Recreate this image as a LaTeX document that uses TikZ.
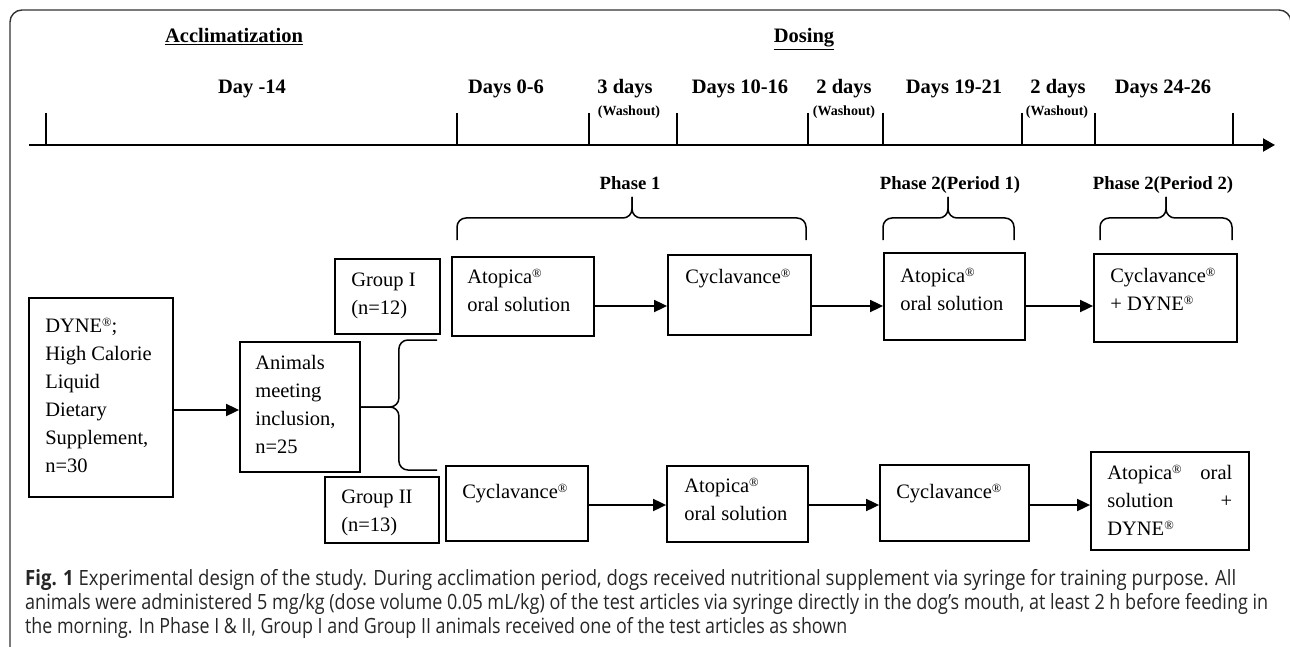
\documentclass[tikz,border=0pt]{standalone}
\usepackage{graphicx}
\usepackage{fontspec}
\setmainfont{Liberation Serif}
\newfontfamily\capfont{Open Sans}
\usetikzlibrary{positioning,arrows.meta}

\newcommand{\reg}{\raisebox{5.6pt}{\fontsize{12.5}{12.5}\selectfont ®}}
\newcommand{\fst}{\rule{0pt}{20pt}}

\begin{document}
\begin{tikzpicture}[x=1pt, y=-1pt,
    frame/.style={draw=black!80, line width=1.4pt, rounded corners=12pt},
    axis/.style={line width=2pt, -{Triangle[length=12pt,width=13pt]}},
    tick/.style={line width=2pt},
    head/.style={font=\fontsize{20.5}{24}\selectfont\bfseries, anchor=base, inner sep=0pt},
    phase/.style={font=\fontsize{18.7}{22}\selectfont\bfseries, anchor=base, inner sep=0pt},
    wash/.style={font=\fontsize{14}{16}\selectfont\bfseries, anchor=base, inner sep=0pt},
    box/.style={draw, line width=1.8pt, inner sep=0pt},
    txt/.style={font=\fontsize{20.5}{28}\selectfont, align=left, inner sep=0pt},
    arr/.style={line width=1.8pt, -{Triangle[length=13pt,width=12pt]}},
    curly/.style={line width=1.5pt, rounded corners=9pt},
    capline/.style={font=\capfont\fontsize{21}{24}\selectfont, anchor=base west,
        inner sep=0pt, text=black!85}]
\useasboundingbox (0,0) rectangle (1290,647);
\draw[frame] (10,655) -- (10,10) -- (1291,10) -- (1291,655);

%headers
\node[head](acclim) at (234,43){\underline{Acclimatization}};
\node[head](dosing) at (804,43){\underline{Dosing}};

%time line
\node[head](day14) at (252,94){Day -14};
\node[head](day06) at (506,94){Days 0-6};
\node[head](wash1) at (625,94){3 days};
\node[head](day1016) at (740,94){Days 10-16};
\node[head](wash2) at (844,94){2 days};
\node[head](day1921) at (954,94){Days 19-21};
\node[head](wash3) at (1058,94){2 days};
\node[head](day2426) at (1163,94){Days 24-26};
\node[wash](wo1) at (629,116){(Washout)};
\node[wash](wo2) at (844,116){(Washout)};
\node[wash](wo3) at (1057,116){(Washout)};
\draw[axis] (29,145) -- (1275,145);
\draw[tick] (46,113) -- (46,145) (457,113) -- (457,145)
    (589,113) -- (589,145) (677,113) -- (677,145)
    (808,113) -- (808,145) (883,113) -- (883,145)
    (1022,113) -- (1022,145) (1095,113) -- (1095,145)
    (1233,113) -- (1233,145);

%phases
\node[phase](ph1) at (630,190){Phase 1};
\node[phase](ph2) at (950,190){Phase 2(Period 1)};
\node[phase](ph3) at (1163,190){Phase 2(Period 2)};
\draw[curly] (457,240) -- (457,218) -- (632,218) -- (632,197);
\draw[curly] (806,240) -- (806,218) -- (632,218) -- (632,197);
\draw[curly] (883,240) -- (883,218) -- (948,218) -- (948,197);
\draw[curly] (1014,240) -- (1014,218) -- (948,218) -- (948,197);
\draw[curly] (1100,240) -- (1100,218) -- (1166,218) -- (1166,197);
\draw[curly] (1232,240) -- (1232,218) -- (1166,218) -- (1166,197);

%boxes
\node[box, minimum width=144pt, minimum height=199pt](dyne) at (101,397.5){};
\node[txt, below right=15pt and 17pt of dyne.north west](dyneTxt)
    {\fst DYNE\reg;\\High Calorie\\Liquid\\Dietary\\Supplement,\\n=30};
\node[box, minimum width=120pt, minimum height=130pt](anim) at (300,407){};
\node[txt, below right=8pt and 16pt of anim.north west](animTxt)
    {\fst Animals\\meeting\\inclusion,\\n=25};
\node[box, minimum width=105pt, minimum height=75pt](grpI) at (387.5,296.5){};
\node[txt, below right=8pt and 17pt of grpI.north west](grpITxt)
    {\fst Group I\\(n=12)};
\node[box, minimum width=114pt, minimum height=66pt](grpII) at (382,510){};
\node[txt, below right=7pt and 17pt of grpII.north west](grpIITxt)
    {\fst Group II\\(n=13)};

\node[box, minimum width=142pt, minimum height=79pt](g1a) at (523,296.5){};
\node[txt, below right=7pt and 16pt of g1a.north west](g1aTxt)
    {\fst Atopica\reg\\oral solution};
\node[box, minimum width=143pt, minimum height=80pt](g1b) at (739.5,295){};
\node[txt, below right=9pt and 18pt of g1b.north west](g1bTxt)
    {\fst Cyclavance\reg};
\node[box, minimum width=141pt, minimum height=87pt](g1c) at (954.5,296.5){};
\node[txt, below right=10pt and 17pt of g1c.north west](g1cTxt)
    {\fst Atopica\reg\\oral solution};
\node[box, minimum width=143pt, minimum height=88pt](g1d) at (1165.5,298){};
\node[txt, below right=9pt and 17pt of g1d.north west](g1dTxt)
    {\fst Cyclavance\reg\\+ DYNE\reg};

\node[box, minimum width=142pt, minimum height=75pt](g2a) at (517,503.5){};
\node[txt, below right=13pt and 17pt of g2a.north west](g2aTxt)
    {\fst Cyclavance\reg};
\node[box, minimum width=141pt, minimum height=76pt](g2b) at (737.5,504){};
\node[txt, below right=7pt and 18pt of g2b.north west](g2bTxt)
    {\fst Atopica\reg\\oral solution};
\node[box, minimum width=149pt, minimum height=76pt](g2c) at (954.5,503){};
\node[txt, below right=14pt and 17pt of g2c.north west](g2cTxt)
    {\fst Cyclavance\reg};
\node[box, minimum width=158pt, minimum height=98pt](g2d) at (1170,501){};
\node[txt, below right=8pt and 17pt of g2d.north west](g2dTxt)
    {\fst\makebox[125pt][s]{Atopica\reg{} oral}\\\makebox[125pt][s]{solution +}\\DYNE\reg};

%connectors
\coordinate (rowA) at (0,306);
\coordinate (rowB) at (0,505);
\coordinate (rowC) at (0,410);
\draw[arr] (dyne.east |- rowC) -- (anim.west |- rowC);
\draw[arr] (g1a.east |- rowA) -- (g1b.west |- rowA);
\draw[arr] (g1b.east |- rowA) -- (g1c.west |- rowA);
\draw[arr] (g1c.east |- rowA) -- (g1d.west |- rowA);
\draw[arr] (g2a.east |- rowB) -- (g2b.west |- rowB);
\draw[arr] (g2b.east |- rowB) -- (g2c.west |- rowB);
\draw[arr] (g2c.east |- rowB) -- (g2d.west |- rowB);
\coordinate (bTop) at (437,340);
\coordinate (bBot) at (437,470);
\draw[curly] (bTop) -| ([xshift=38pt]anim.east) -- (anim.east);
\draw[curly] (bBot) -| ([xshift=38pt]anim.east) -- (anim.east);

%caption
\node[capline](cap1) at (25,585){\resizebox{1211pt}{\height}{\textbf{Fig. 1} Experimental design of the study. During acclimation period, dogs received nutritional supplement via syringe for training purpose. All}};
\node[capline](cap2) at (25,609){\resizebox{1243pt}{\height}{animals were administered 5 mg/kg (dose volume 0.05 mL/kg) of the test articles via syringe directly in the dog’s mouth, at least 2 h before feeding in}};
\node[capline](cap3) at (25,633){\resizebox{822pt}{\height}{the morning. In Phase I \& II, Group I and Group II animals received one of the test articles as shown}};
\end{tikzpicture}
\end{document}
